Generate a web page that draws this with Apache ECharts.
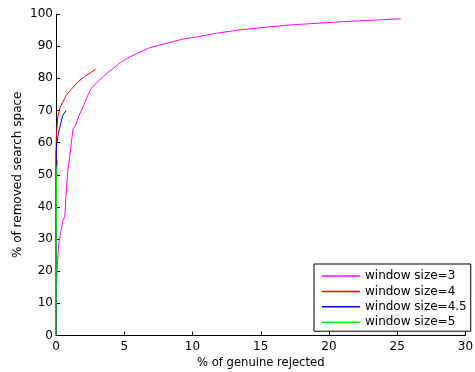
<!DOCTYPE html>
<html>
<head>
<meta charset="utf-8">
<script src="https://cdn.jsdelivr.net/npm/echarts@6/dist/echarts.min.js"></script>
<style>
  html, body { margin: 0; padding: 0; background: #fff; }
  #chart { width: 475px; height: 372px; }
</style>
</head>
<body>
<div id="chart"></div>
<script>
// [% genuine rejected, % removed search space]
const win3 = [
  [0.05, 16.5], [0.1, 22], [0.2, 28.7], [0.35, 32], [0.5, 35.9], [0.65, 36.9],
  [0.75, 45], [0.87, 51.4], [0.95, 54], [1.1, 59], [1.25, 64.3], [1.45, 65.5],
  [1.6, 67.5], [1.7, 68.5], [1.97, 71], [2.33, 74.7], [2.58, 76.8], [2.95, 78.5],
  [3.3, 79.9], [3.7, 81.5], [4.17, 83], [4.6, 84.5], [5.15, 86.1], [5.88, 87.6],
  [6.86, 89.5], [8.0, 90.8], [9.3, 92.2], [10.5, 93], [11.75, 94.0], [13.5, 95.1],
  [15.4, 95.9], [17.2, 96.6], [19.1, 97.1], [21, 97.6], [22.8, 98.0], [25.25, 98.5]
];
const win4 = [
  [0, 0], [0, 45], [0.01, 59.8], [0.05, 63.5], [0.13, 68], [0.3, 71], [0.5, 72.6],
  [0.75, 74.7], [1.1, 76.5], [1.6, 78.8], [2.09, 80.6], [2.58, 81.9], [2.9, 82.8]
];
const win45 = [
  [0, 0], [0, 52], [0.01, 57.6], [0.1, 61], [0.26, 64.5], [0.5, 68.5], [0.75, 70]
];
const win5 = [
  [0, 0], [0.03, 45], [0.06, 52], [0.13, 54.5]
];

const names = ["window size=3", "window size=4", "window size=4.5", "window size=5"];
const colors = ["#ff00ff", "#ff0000", "#0000ff", "#00ff00"];
const seriesData = [win3, win4, win45, win5];

const font = "'DejaVu Sans', Verdana, sans-serif";
const chart = echarts.init(document.getElementById("chart"), null, { renderer: "canvas" });

const axisCommon = {
  type: "value",
  nameLocation: "middle",
  nameMoveOverlap: false,
  nameTextStyle: { color: "#000", fontSize: 12, fontFamily: font },
  axisLine: { show: true, lineStyle: { color: "#000", width: 1 } },
  axisTick: { show: true, inside: true, length: 4, lineStyle: { color: "#000" } },
  axisLabel: { color: "#000", fontSize: 12, fontFamily: font },
  splitLine: { show: false }
};

const option = {
  backgroundColor: "#fff",
  animation: false,
  grid: { left: 56, right: 9.5, top: 14, bottom: 36.5, outerBoundsMode: "none" },
  xAxis: Object.assign({}, axisCommon, {
    name: "% of genuine rejected",
    nameGap: 21,
    nameTextStyle: Object.assign({}, axisCommon.nameTextStyle, { fontSize: 11.6 }),
    min: 0, max: 30, interval: 5,
    axisLabel: Object.assign({}, axisCommon.axisLabel, { margin: 5 })
  }),
  yAxis: Object.assign({}, axisCommon, {
    name: "% of removed search space",
    nameGap: 32,
    min: 0, max: 100, interval: 10,
    axisLabel: Object.assign({}, axisCommon.axisLabel, { margin: 3 })
  }),
  legend: {
    orient: "vertical",
    left: 314,
    top: 264,
    padding: [5, 4, 2, 8],
    itemGap: 1.4,
    itemWidth: 38,
    itemHeight: 1.5,
    icon: "rect",
    borderColor: "#000",
    borderWidth: 1,
    backgroundColor: "#fff",
    textStyle: { color: "#000", fontSize: 12, fontFamily: font, lineHeight: 14 },
    data: names
  },
  series: seriesData.map((d, i) => ({
    name: names[i],
    type: "line",
    data: d,
    symbol: "none",
    smooth: false,
    color: colors[i],
    lineStyle: { color: colors[i], width: 1 }
  }))
};

chart.setOption(option);
</script>
</body>
</html>
